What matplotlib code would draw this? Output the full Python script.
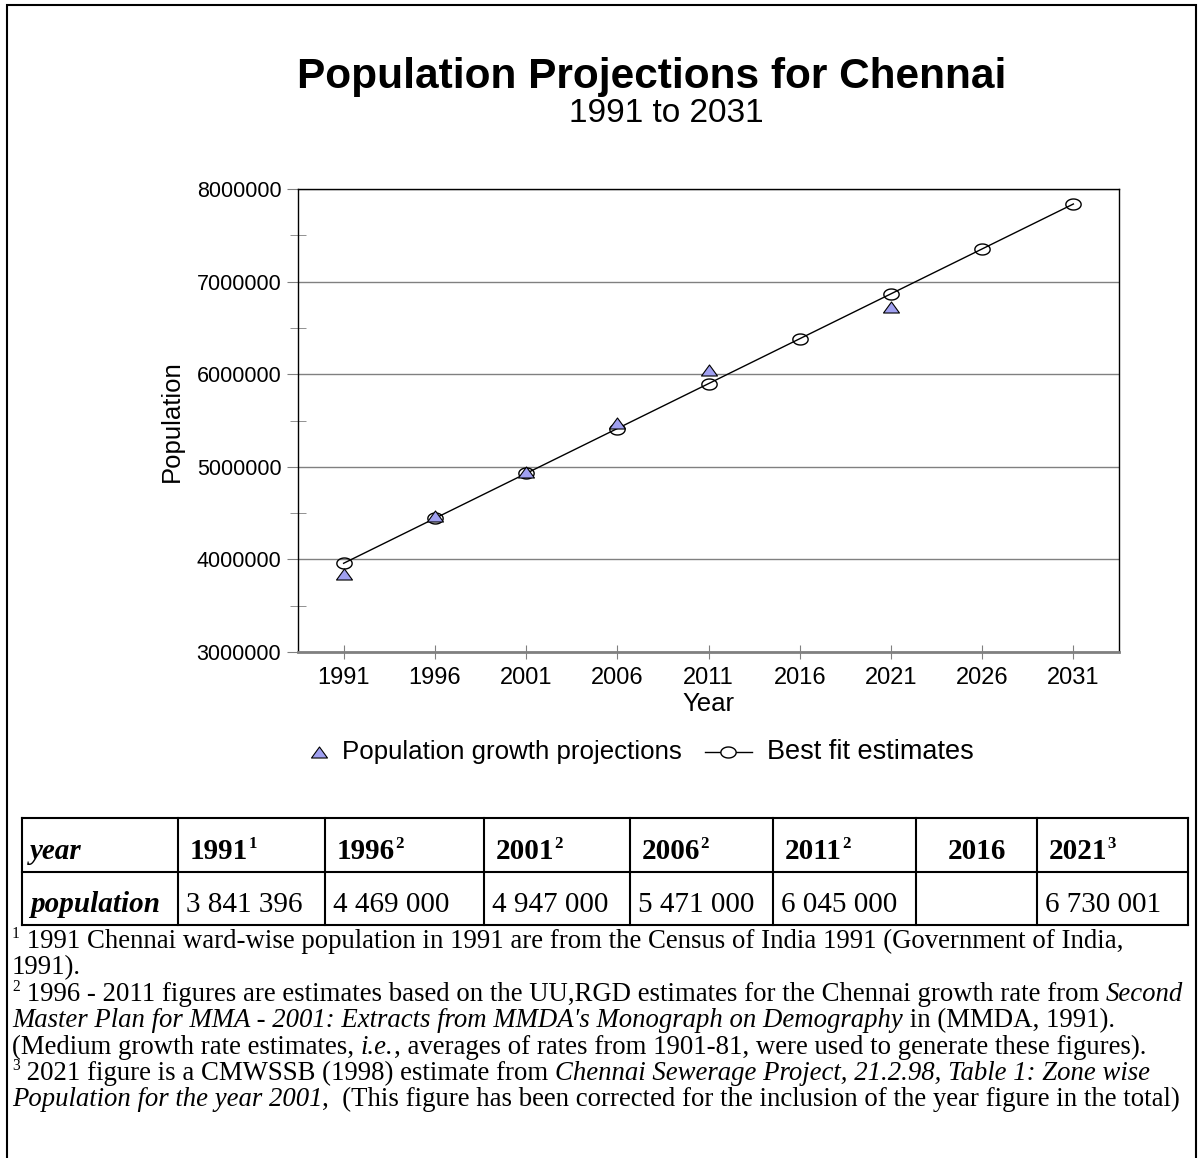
import numpy as np
import matplotlib
matplotlib.use('Agg')
import matplotlib.pyplot as plt
from matplotlib.path import Path
from matplotlib.lines import Line2D
from matplotlib.patches import Rectangle

# Figure size in pixels
W, H = 1201, 1158

# Chart data
years = ['1991', '1996', '2001', '2006', '2011', '2016', '2021', '2026', '2031']
proj_years = ['1991', '1996', '2001', '2006', '2011', '2021']
proj_pop = [3841396, 4469000, 4947000, 5471000, 6045000, 6730001]
fit_pop = [3958000, 4443000, 4928000, 5413000, 5898000, 6383000, 6868000, 7353000, 7838000]

# Table data
table_years = ['1991', '1996', '2001', '2006', '2011', '2016', '2021']
table_notes = ['1', '2', '2', '2', '2', '', '3']

SANS = 'Liberation Sans'
SERIF = 'Liberation Serif'
GRAY = '#808080'
TRI_COLOR = '#a0a0f0'


# pixel (from top-left) -> figure fraction
def fx(x):
    return x / W


def fy(y):
    return 1 - y / H


# Ellipse marker (circles look a bit squashed in the original)
t = np.linspace(0, 2 * np.pi, 73)
ellipse = Path(np.column_stack([np.cos(t), 0.72 * np.sin(t)]), closed=True)
triangle = Path([(-1, -0.69), (1, -0.69), (0, 0.69), (-1, -0.69)], closed=True)

fig = plt.figure(figsize=(W / 100, H / 100), dpi=100)
renderer = fig.canvas.get_renderer()

# Outer frame
fig.add_artist(Rectangle((fx(7), fy(1175)), fx(1196) - fx(7), fy(5) - fy(1175),
                         transform=fig.transFigure, fill=False, ec='black', lw=1.5))

# Titles
fig.text(fx(652), fy(88), 'Population Projections for Chennai', family=SANS,
         weight='bold', fontsize=30.5, ha='center', va='baseline')
fig.text(fx(666), fy(122), '1991 to 2031', family=SANS, fontsize=24,
         ha='center', va='baseline')

# Main axes
ax = fig.add_axes([fx(298), fy(652), fx(1119) - fx(298), fy(189) - fy(652)])
pos = np.arange(len(years))
proj_pos = [years.index(y) for y in proj_years]

ax.plot(pos, fit_pop, color='black', lw=1, marker=ellipse, markersize=11,
        markerfacecolor='none', markeredgecolor='black', markeredgewidth=1, zorder=3)
ax.plot(proj_pos, proj_pop, linestyle='none', marker=triangle, markersize=11.5,
        markerfacecolor=TRI_COLOR, markeredgecolor='black', markeredgewidth=0.8, zorder=4)

ax.set_xlim(-0.5, len(years) - 0.5)
ax.set_ylim(3000000, 8000000)
ax.set_xticks(pos)
ax.set_xticklabels(years, family=SANS, fontsize=17)
ax.set_yticks(np.arange(3000000, 8000001, 1000000))
ax.set_yticklabels([str(v) for v in range(3000000, 8000001, 1000000)], family=SANS, fontsize=15.5)
ax.set_yticks(np.arange(3500000, 8000000, 1000000), minor=True)
ax.yaxis.grid(True, which='major', color=GRAY, lw=1)
ax.tick_params(axis='y', which='major', direction='out', length=8, color=GRAY, pad=4)
ax.tick_params(axis='y', which='minor', direction='inout', length=12, color=GRAY)
ax.tick_params(axis='x', which='major', direction='inout', length=10, color=GRAY, pad=6)
for s in ['left', 'top', 'right']:
    ax.spines[s].set_color('black')
    ax.spines[s].set_linewidth(1)
ax.spines['bottom'].set_color(GRAY)
ax.spines['bottom'].set_linewidth(2)

fig.text(fx(172), fy(421), 'Population', family=SANS, fontsize=18.5, rotation=90,
         ha='center', va='center')
fig.text(fx(708), fy(704), 'Year', family=SANS, fontsize=18.5, ha='center', va='center')

# Legend (drawn by hand to match the spacing)
fig.add_artist(Line2D([fx(319)], [fy(752)], transform=fig.transFigure, linestyle='none',
                      marker=triangle, markersize=11.5, markerfacecolor=TRI_COLOR,
                      markeredgecolor='black', markeredgewidth=0.8))
fig.text(fx(342), fy(752), 'Population growth projections', family=SANS, fontsize=18.6,
         ha='left', va='center')
fig.add_artist(Line2D([fx(705), fx(752)], [fy(752), fy(752)], transform=fig.transFigure,
                      color='black', lw=1))
fig.add_artist(Line2D([fx(728)], [fy(752)], transform=fig.transFigure, linestyle='none',
                      marker=ellipse, markersize=11, markerfacecolor='white',
                      markeredgecolor='black', markeredgewidth=1))
fig.text(fx(767), fy(752), 'Best fit estimates', family=SANS, fontsize=19.5,
         ha='left', va='center')


# Draw a sequence of text runs one after another on a baseline
def draw_runs(x, y, runs, size=18, family=SERIF):
    for txt, style, weight, sup in runs:
        fs = size * 0.58 if sup else size
        dy = size * 0.36 if sup else 0
        tt = fig.text(fx(x), fy(y) + dy / 72 * 100 / H, txt, family=family, fontsize=fs,
                      style=style, weight=weight, ha='left', va='baseline')
        x += tt.get_window_extent(renderer).width
    return x


# Table
col_x = [22, 178, 325, 484, 630, 773, 916, 1037, 1188]
row_y = [818, 872, 925]
for cx in col_x:
    fig.add_artist(Line2D([fx(cx), fx(cx)], [fy(row_y[0]), fy(row_y[-1])],
                          transform=fig.transFigure, color='black', lw=1.5))
for ry in row_y:
    fig.add_artist(Line2D([fx(col_x[0]), fx(col_x[-1])], [fy(ry), fy(ry)],
                          transform=fig.transFigure, color='black', lw=1.5))

TS = 21
draw_runs(col_x[0] + 8, 859, [('year', 'italic', 'bold', False)], size=TS)
draw_runs(col_x[0] + 8, 912, [('population', 'italic', 'bold', False)], size=TS)
pop_lookup = dict(zip(proj_years, proj_pop))
for i, (yr, note) in enumerate(zip(table_years, table_notes)):
    left = col_x[i + 1]
    if note:
        draw_runs(left + 12, 859, [(yr, 'normal', 'bold', False), (note, 'normal', 'bold', True)], size=TS)
    else:
        fig.text(fx((left + col_x[i + 2]) / 2), fy(859), yr, family=SERIF, fontsize=TS,
                 weight='bold', ha='center', va='baseline')
    if yr in pop_lookup:
        val = f'{pop_lookup[yr]:,}'.replace(',', ' ')
        draw_runs(left + 8, 912, [(val, 'normal', 'normal', False)], size=TS)

# Footnotes
FS = 19.3
R, I = 'normal', 'italic'
notes = [
    [('1', R, 'normal', True), (' 1991 Chennai ward-wise population in 1991 are from the Census of India 1991 (Government of India,', R, 'normal', False)],
    [('1991).', R, 'normal', False)],
    [('2', R, 'normal', True), (' 1996 - 2011 figures are estimates based on the UU,RGD estimates for the Chennai growth rate from ', R, 'normal', False), ('Second', I, 'normal', False)],
    [("Master Plan for MMA - 2001: Extracts from MMDA's Monograph on Demography", I, 'normal', False), (' in (MMDA, 1991).', R, 'normal', False)],
    [('(Medium growth rate estimates, ', R, 'normal', False), ('i.e.', I, 'normal', False), (', averages of rates from 1901-81, were used to generate these figures).', R, 'normal', False)],
    [('3', R, 'normal', True), (' 2021 figure is a CMWSSB (1998) estimate from ', R, 'normal', False), ('Chennai Sewerage Project, 21.2.98, Table 1: Zone wise', I, 'normal', False)],
    [('Population for the year 2001', I, 'normal', False), (',  (This figure has been corrected for the inclusion of the year figure in the total)', R, 'normal', False)],
]
base = [948, 974, 1001, 1027, 1054, 1080, 1106]
for runs, b in zip(notes, base):
    draw_runs(12, b, runs, size=FS)

fig.savefig('out.png', dpi=100)
